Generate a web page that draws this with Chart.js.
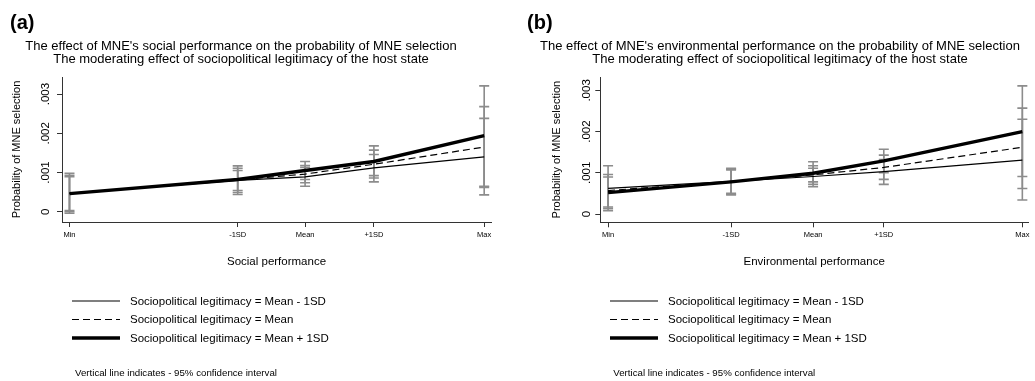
<!DOCTYPE html>
<html><head><meta charset="utf-8">
<script src="https://cdn.jsdelivr.net/npm/chart.js@4.4.1/dist/chart.umd.min.js"></script>
<style>
html,body{margin:0;padding:0;background:#fff;}
#wrap{position:relative;width:1035px;height:381px;overflow:hidden;background:#fff;}
.panel{position:absolute;top:0;width:517px;height:381px;}
</style></head><body>
<div id="wrap">
<div class="panel" style="left:0"><canvas id="ca" width="517" height="381"></canvas></div>
<div class="panel" style="left:518px"><canvas id="cb" width="517" height="381"></canvas></div>
</div>
<script>
// ---------- data ----------
const xTickLabels = ['Min', '-1SD', 'Mean', '+1SD', 'Max'];
const socialX = [-3.46, -0.99, 0, 1.01, 2.63];   // position of Min,-1SD,Mean,+1SD,Max (SD units)
const envX = [-2.90, -1.16, 0, 1, 2.96];
const seriesNames = ['Sociopolitical legitimacy = Mean - 1SD', 'Sociopolitical legitimacy = Mean', 'Sociopolitical legitimacy = Mean + 1SD'];
const yTickValues = [0, 0.001, 0.002, 0.003];
const yTickLabels = ['0', '.001', '.002', '.003'];

// (a) social performance
const socialLow  = [0.00047, 0.00080, 0.00089, 0.00112, 0.00140];
const socialMid  = [0.000465, 0.00081, 0.00096, 0.00121, 0.00165];
const socialHigh = [0.00046, 0.00082, 0.00105, 0.00128, 0.00194];
const socialLowLo  = [-0.00004, 0.00044, 0.00065, 0.00076, 0.00043];
const socialLowHi  = [0.00098, 0.00117, 0.00113, 0.00146, 0.00238];
const socialMidLo  = [0.00000, 0.00049, 0.00074, 0.00086, 0.00062];
const socialMidHi  = [0.00093, 0.00111, 0.00118, 0.00157, 0.00268];
const socialHighLo = [0.00003, 0.00054, 0.00082, 0.00092, 0.00065];
const socialHighHi = [0.00089, 0.00105, 0.00128, 0.00168, 0.00321];

// (b) environmental performance
const envLow  = [0.00062, 0.00079, 0.00091, 0.00103, 0.00131];
const envMid  = [0.00057, 0.000785, 0.00095, 0.00113, 0.00162];
const envHigh = [0.00052, 0.00078, 0.00099, 0.00129, 0.00200];
const envLowLo  = [0.00008, 0.00046, 0.00066, 0.00072, 0.00034];
const envLowHi  = [0.00117, 0.00111, 0.00117, 0.00132, 0.00230];
const envMidLo  = [0.00017, 0.00048, 0.00078, 0.00084, 0.00062];
const envMidHi  = [0.00096, 0.00109, 0.00111, 0.00143, 0.00257];
const envHighLo = [0.00013, 0.00050, 0.00072, 0.00100, 0.00091];
const envHighHi = [0.00090, 0.00107, 0.00127, 0.00157, 0.00311];

// ---------- helpers ----------
const FONT = '"Liberation Sans", Arial, sans-serif';
Chart.defaults.font.family = FONT;
Chart.defaults.color = '#000';

const lineStyles = [
  {borderWidth: 1.2, borderDash: [], order: 3},
  {borderWidth: 1.2, borderDash: [7, 4], order: 2},
  {borderWidth: 3.4, borderDash: [], order: 1}
];

function pts(xs, ys) { return xs.map((x, i) => ({x: x, y: ys[i]})); }

const extrasPlugin = {
  id: 'extras',
  beforeDatasetsDraw(chart) {
    const o = chart.options.plugins.extras;
    const ctx = chart.ctx, xs = chart.scales.x, ys = chart.scales.y;
    ctx.save();
    ctx.strokeStyle = '#8c8c8c';
    ctx.lineWidth = 1.6;
    chart.data.datasets.forEach(ds => {
      ds.data.forEach((p, i) => {
        const px = xs.getPixelForValue(p.x);
        const y1 = ys.getPixelForValue(ds.ciLo[i]);
        const y2 = ys.getPixelForValue(ds.ciHi[i]);
        ctx.beginPath();
        ctx.moveTo(px, y1); ctx.lineTo(px, y2);
        ctx.moveTo(px - 5, y1); ctx.lineTo(px + 5, y1);
        ctx.moveTo(px - 5, y2); ctx.lineTo(px + 5, y2);
        ctx.stroke();
      });
    });
    ctx.restore();
  },
  afterDraw(chart) {
    const o = chart.options.plugins.extras;
    const ctx = chart.ctx, ys = chart.scales.y;
    ctx.save();
    ctx.fillStyle = '#000';
    // panel letter
    ctx.font = 'bold 20px ' + FONT;
    ctx.textAlign = 'left'; ctx.textBaseline = 'alphabetic';
    ctx.fillText(o.letter, o.letterX, 29);
    // titles
    ctx.font = '13px ' + FONT;
    ctx.textAlign = 'center';
    ctx.fillText(o.title1, o.titleX, 49.5);
    ctx.fillText(o.title2, o.titleX, 63);
    // rotated y tick labels
    ctx.font = '11.5px ' + FONT;
    ctx.textBaseline = 'middle';
    yTickValues.forEach((v, i) => {
      const py = ys.getPixelForValue(v);
      ctx.save();
      ctx.translate(o.yLabelX, py);
      ctx.rotate(-Math.PI / 2);
      ctx.textAlign = 'center';
      ctx.fillText(yTickLabels[i], 0, 0);
      ctx.restore();
    });
    // legend
    const rows = [301, 319.5, 338];
    chart.data.datasets.forEach((ds, i) => {
      ctx.save();
      ctx.strokeStyle = '#000';
      ctx.lineWidth = ds.borderWidth;
      ctx.setLineDash(ds.borderDash);
      ctx.beginPath();
      ctx.moveTo(o.legendX, rows[i]); ctx.lineTo(o.legendX + 48, rows[i]);
      ctx.stroke();
      ctx.restore();
      ctx.font = '11.5px ' + FONT;
      ctx.textAlign = 'left'; ctx.textBaseline = 'middle';
      ctx.fillText(ds.label, o.legendX + 58, rows[i] + 0.5);
    });
    // note
    ctx.font = '9.7px ' + FONT;
    ctx.textAlign = 'left'; ctx.textBaseline = 'middle';
    ctx.fillText('Vertical line indicates - 95% confidence interval', o.noteX, 373.5);
    ctx.restore();
  }
};

function makeChart(id, cfg) {
  const datasets = cfg.series.map((s, i) => ({
    label: seriesNames[i],
    data: pts(cfg.xs, s.y),
    ciLo: s.lo, ciHi: s.hi,
    borderColor: '#000',
    borderWidth: lineStyles[i].borderWidth,
    borderDash: lineStyles[i].borderDash,
    order: lineStyles[i].order,
    pointRadius: 0, tension: 0, fill: false
  }));
  return new Chart(document.getElementById(id), {
    type: 'line',
    data: {datasets: datasets},
    plugins: [extrasPlugin],
    options: {
      responsive: false, animation: false, devicePixelRatio: 1,
      layout: {padding: {left: 0, right: cfg.padRight, top: 77, bottom: 0}},
      plugins: {
        legend: {display: false}, tooltip: {enabled: false}, title: {display: false},
        extras: cfg.extras
      },
      scales: {
        x: {
          type: 'linear', min: cfg.xMin, max: cfg.xMax,
          afterBuildTicks: sc => { sc.ticks = cfg.xs.map(v => ({value: v})); },
          afterFit: sc => { sc.height = cfg.xHeight; },
          ticks: {
            autoSkip: false, maxRotation: 0, minRotation: 0, padding: 3,
            font: {size: 7.5}, color: '#000',
            callback: (v, i) => xTickLabels[i]
          },
          grid: {display: true, drawOnChartArea: false, drawTicks: true, tickLength: 5, color: '#333', lineWidth: 1},
          border: {display: true, color: '#333', width: 1},
          title: {display: true, text: cfg.xTitle, font: {size: 11.5}, color: '#000', padding: {top: 0, bottom: 112}}
        },
        y: {
          type: 'linear', min: cfg.yMin, max: cfg.yMax,
          afterBuildTicks: sc => { sc.ticks = yTickValues.map(v => ({value: v})); },
          afterFit: sc => { sc.width = cfg.yWidth; },
          ticks: {display: false},
          grid: {display: true, drawOnChartArea: false, drawTicks: true, tickLength: 5, color: '#333', lineWidth: 1},
          border: {display: true, color: '#333', width: 1},
          title: {display: true, text: 'Probability of MNE selection', font: {size: 11}, color: '#000', padding: {top: cfg.yTitlePad, bottom: 0}}
        }
      }
    }
  });
}

makeChart('ca', {
  xs: socialX, xMin: -3.57, xMax: 2.73, yMin: -0.000263, yMax: 0.003436,
  padRight: 26, xHeight: 159, yWidth: 62, yTitlePad: 10.5,
  xTitle: 'Social performance',
  series: [
    {y: socialLow, lo: socialLowLo, hi: socialLowHi},
    {y: socialMid, lo: socialMidLo, hi: socialMidHi},
    {y: socialHigh, lo: socialHighLo, hi: socialHighHi}
  ],
  extras: {
    letter: '(a)', letterX: 10, titleX: 241, yLabelX: 46, legendX: 72, noteX: 75,
    title1: "The effect of MNE's social performance on the probability of MNE selection",
    title2: 'The moderating effect of sociopolitical legitimacy of the host state'
  }
});

makeChart('cb', {
  xs: envX, xMin: -3.01, xMax: 3.04, yMin: -0.000201, yMax: 0.003325,
  padRight: 7, xHeight: 158.7, yWidth: 82.3, yTitlePad: 32.5,
  xTitle: 'Environmental performance',
  series: [
    {y: envLow, lo: envLowLo, hi: envLowHi},
    {y: envMid, lo: envMidLo, hi: envMidHi},
    {y: envHigh, lo: envHighLo, hi: envHighHi}
  ],
  extras: {
    letter: '(b)', letterX: 9, titleX: 262, yLabelX: 68.7, legendX: 92, noteX: 95.3,
    title1: "The effect of MNE's environmental performance on the probability of MNE selection",
    title2: 'The moderating effect of sociopolitical legitimacy of the host state'
  }
});
</script>
</body></html>
